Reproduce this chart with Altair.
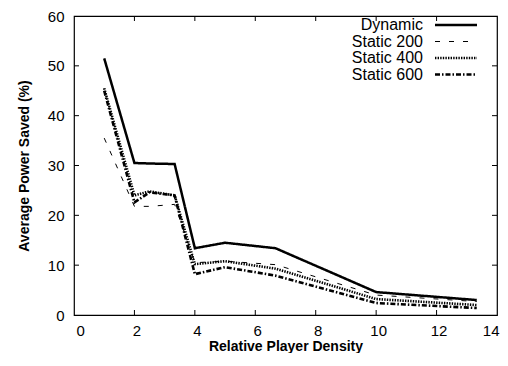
import altair as alt
import pandas as pd

# ---- data ----
density = [1, 2, 2.5, 3.33, 4, 5, 6.67, 10, 13.33]
dynamic = [51.5, 30.5, 30.4, 30.3, 13.4, 14.5, 13.4, 4.6, 3.0]
static200 = [35.5, 21.8, 21.8, 22.2, 10.5, 10.8, 10.1, 4.0, 2.7]
static400 = [45.5, 24.0, 24.8, 24.0, 10.2, 10.8, 9.3, 3.2, 2.0]
static600 = [45.0, 22.6, 24.6, 24.0, 8.2, 9.6, 7.9, 2.4, 1.4]

series_names = ["Dynamic", "Static 200", "Static 400", "Static 600"]
series_values = [dynamic, static200, static400, static600]
dashes = [[1, 0], [5, 9], [1.4, 1.2], [5, 2, 1.5, 2]]
widths = [2.5, 1.0, 2.6, 2.6]

x_ticks = [0, 2, 4, 6, 8, 10, 12, 14]
y_ticks = [0, 10, 20, 30, 40, 50, 60]

W, H = 423, 299
FONT = "Liberation Sans"

rows = []
for name, vals in zip(series_names, series_values):
    for xv, yv in zip(density, vals):
        rows.append({"x": xv, "y": yv, "series": name})
df = pd.DataFrame(rows)

xs = alt.Scale(domain=[0, 14], nice=False, zero=False)
ys = alt.Scale(domain=[0, 60], nice=False, zero=False)
x_axis = alt.Axis(values=x_ticks, tickSize=0, domain=False, grid=False,
                  labelPadding=8, labelOffset=2, titlePadding=1)
y_axis = alt.Axis(values=y_ticks, tickSize=0, domain=False, grid=False,
                  labelPadding=10, titlePadding=16)
X_TITLE = "Relative Player Density"
Y_TITLE = "Average Power Saved (%)"


def xenc():
    return alt.X("x:Q", scale=xs, axis=x_axis, title=X_TITLE)


def yenc():
    return alt.Y("y:Q", scale=ys, axis=y_axis, title=Y_TITLE)


line_layers = []
for i, name in enumerate(series_names):
    line_layers.append(
        alt.Chart(df).transform_filter(alt.datum.series == name)
        .mark_line(color="black", strokeJoin="miter", clip=True,
                   strokeDash=dashes[i], strokeWidth=widths[i])
        .encode(x=xenc(), y=yenc())
    )

xt = pd.DataFrame({"x": x_ticks[1:-1]})
yt = pd.DataFrame({"y": y_ticks[1:-1]})
tick_layers = [
    alt.Chart(xt).mark_rule(color="black").encode(
        x=xenc(), y=alt.value(H), y2=alt.value(H - 5)),
    alt.Chart(xt).mark_rule(color="black").encode(
        x=xenc(), y=alt.value(0), y2=alt.value(5)),
    alt.Chart(yt).mark_rule(color="black").encode(
        y=yenc(), x=alt.value(0), x2=alt.value(5)),
    alt.Chart(yt).mark_rule(color="black").encode(
        y=yenc(), x=alt.value(W), x2=alt.value(W - 5)),
]

legend_layers = []
for i, name in enumerate(series_names):
    yy = 9 + 16.5 * i
    ld = pd.DataFrame({"label": [name]})
    legend_layers.append(
        alt.Chart(ld).mark_text(align="right", baseline="middle", font=FONT, fontSize=16,
                                color="black", x=349, y=yy).encode(text="label:N"))
    legend_layers.append(
        alt.Chart(ld).mark_rule(color="black", strokeDash=dashes[i], strokeWidth=widths[i]).encode(
            x=alt.value(361), x2=alt.value(403), y=alt.value(yy)))

chart = alt.layer(*line_layers, *tick_layers, *legend_layers).properties(
    width=W, height=H,
    autosize=alt.AutoSizeParams(type="none"),
    padding={"left": 66, "top": 8, "right": 3, "bottom": 38},
).configure_view(stroke="black", strokeWidth=1.2).configure_axis(
    labelFont=FONT, labelFontSize=15, labelColor="black",
    titleFont=FONT, titleFontSize=14, titleFontWeight="bold", titleColor="black",
)

chart.save("out.html", embed_options={"renderer": "svg", "actions": False})
